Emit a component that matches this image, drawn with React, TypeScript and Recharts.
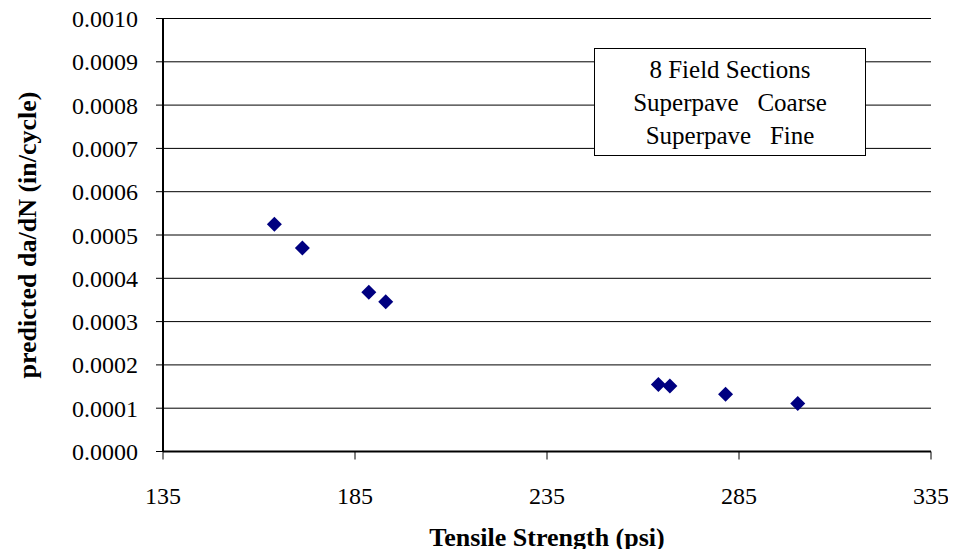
import { ScatterChart, Scatter, XAxis, YAxis, CartesianGrid } from 'recharts';

// Tensile strength (psi) vs predicted da/dN (in/cycle), 8 field sections
const tensile = [164.0, 171.3, 188.6, 193.0, 264.0, 267.0, 281.5, 300.3];
const dadN = [0.000525, 0.00047, 0.000368, 0.000346, 0.000155, 0.000151, 0.000132, 0.000111];

const xTicks = [135, 185, 235, 285, 335];
const yTicks = [0, 0.0001, 0.0002, 0.0003, 0.0004, 0.0005, 0.0006, 0.0007, 0.0008, 0.0009, 0.001];

const legendLines = ['8 Field Sections', 'Superpave   Coarse', 'Superpave   Fine'];

const points = tensile.map((x, i) => ({ x, y: dadN[i] }));

const FONT = '"Liberation Serif", "Times New Roman", serif';

const Diamond = (props: any) => {
  const { cx, cy } = props;
  const r = 7.5;
  return (
    <polygon
      points={`${cx},${cy - r} ${cx + r},${cy} ${cx},${cy + r} ${cx - r},${cy}`}
      fill="#000080"
    />
  );
};

export default function App() {
  return (
    <div style={{ position: 'relative', margin: -8, width: 956, height: 557, fontFamily: FONT }}>
      <ScatterChart
        width={956}
        height={557}
        margin={{ top: 18.5, right: 25, bottom: 1.5, left: 0 }}
        style={{ fontFamily: FONT }}
      >
        <CartesianGrid horizontal vertical={false} stroke="#000" strokeWidth={1} />
        <XAxis
          type="number"
          dataKey="x"
          domain={[135, 335]}
          ticks={xTicks}
          height={104}
          axisLine={{ stroke: '#000', strokeWidth: 2 }}
          tickLine={{ stroke: '#000' }}
          tickSize={8}
          tickMargin={27}
          tick={{ fill: '#000', fontSize: 24 }}
          label={{
            value: 'Tensile Strength (psi)',
            position: 'insideBottom',
            offset: 10,
            style: { fill: '#000', fontSize: 26, fontWeight: 'bold' },
          }}
        />
        <YAxis
          type="number"
          dataKey="y"
          domain={[0, 0.001]}
          ticks={yTicks}
          width={163}
          interval={0}
          axisLine={{ stroke: '#000', strokeWidth: 2 }}
          tickLine={{ stroke: '#000' }}
          tickSize={7}
          tickMargin={18}
          tickFormatter={(v: number) => v.toFixed(4)}
          tick={{ fill: '#000', fontSize: 24 }}
          label={{
            value: 'predicted da/dN (in/cycle)',
            angle: -90,
            position: 'insideLeft',
            offset: 27,
            style: { fill: '#000', fontSize: 26, fontWeight: 'bold', textAnchor: 'middle' },
          }}
        />
        <YAxis
          yAxisId="right"
          orientation="right"
          width={0}
          domain={[0, 0.001]}
          tick={false}
          tickLine={false}
          axisLine={{ stroke: '#000', strokeWidth: 2 }}
        />
        <Scatter data={points} shape={<Diamond />} isAnimationActive={false} />
      </ScatterChart>
      <div
        style={{
          position: 'absolute',
          left: 594,
          top: 48,
          width: 270,
          height: 102,
          border: '1.5px solid #000',
          background: '#fff',
          paddingTop: 4,
          boxSizing: 'content-box',
          textAlign: 'center',
          fontSize: 25,
          lineHeight: '33px',
          whiteSpace: 'pre',
          color: '#000',
        }}
      >
        {legendLines.map((t) => (
          <div key={t}>{t}</div>
        ))}
      </div>
    </div>
  );
}
